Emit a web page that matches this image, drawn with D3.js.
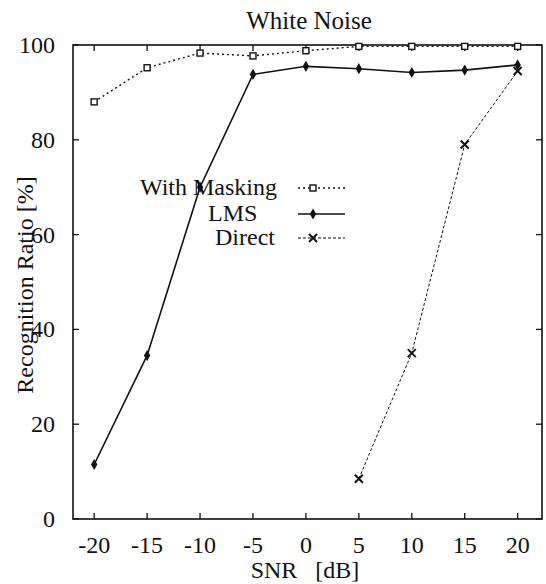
<!DOCTYPE html>
<html lang="en">
<head>
<meta charset="utf-8">
<title>White Noise</title>
<script src="https://d3js.org/d3.v7.min.js"></script>
<style>
  body { margin: 0; background: #fff; }
  text { font-family: "Liberation Serif", "DejaVu Serif", serif; fill: #111; }
</style>
</head>
<body>
<svg id="chart" width="546" height="584"></svg>
<script>
// data
var snr = [-20, -15, -10, -5, 0, 5, 10, 15, 20];
var withMasking = [88, 95.2, 98.3, 97.7, 98.8, 99.7, 99.7, 99.7, 99.7];
var lms = [11.5, 34.5, 70, 93.8, 95.5, 95, 94.2, 94.7, 95.8];
var directSnr = [5, 10, 15, 20];
var direct = [8.5, 35, 79, 94.5];
var xTicks = [-20, -15, -10, -5, 0, 5, 10, 15, 20];
var yTicks = [0, 20, 40, 60, 80, 100];

var svg = d3.select("#chart");
var plotL = 73, plotR = 542, plotT = 45, plotB = 519;

var x = d3.scaleLinear().domain([-22, 22.3]).range([plotL, plotR]);
var y = d3.scaleLinear().domain([0, 100]).range([plotB, plotT]);

// frame
svg.append("rect")
  .attr("x", plotL).attr("y", plotT)
  .attr("width", plotR - plotL).attr("height", plotB - plotT)
  .attr("fill", "none").attr("stroke", "#111").attr("stroke-width", 1.6);

// inner ticks
var tk = 6;
xTicks.forEach(function (v) {
  svg.append("line").attr("x1", x(v)).attr("x2", x(v))
    .attr("y1", plotB).attr("y2", plotB - tk).attr("stroke", "#111").attr("stroke-width", 1.3);
  svg.append("line").attr("x1", x(v)).attr("x2", x(v))
    .attr("y1", plotT).attr("y2", plotT + tk).attr("stroke", "#111").attr("stroke-width", 1.3);
  svg.append("text").attr("x", x(v)).attr("y", plotB + 34)
    .attr("text-anchor", "middle").attr("font-size", 24).text(v);
});
yTicks.forEach(function (v) {
  svg.append("line").attr("x1", plotL).attr("x2", plotL + tk)
    .attr("y1", y(v)).attr("y2", y(v)).attr("stroke", "#111").attr("stroke-width", 1.3);
  svg.append("line").attr("x1", plotR).attr("x2", plotR - tk)
    .attr("y1", y(v)).attr("y2", y(v)).attr("stroke", "#111").attr("stroke-width", 1.3);
  svg.append("text").attr("x", plotL - 18).attr("y", y(v) + 8)
    .attr("text-anchor", "end").attr("font-size", 24).text(v);
});

// titles
svg.append("text").attr("x", 309).attr("y", 29)
  .attr("text-anchor", "middle").attr("font-size", 25).text("White Noise");
svg.append("text").attr("x", 305).attr("y", 578)
  .attr("text-anchor", "middle").attr("font-size", 24)
  .attr("xml:space", "preserve").text("SNR   [dB]");
svg.append("text")
  .attr("transform", "translate(33,285) rotate(-90)")
  .attr("text-anchor", "middle").attr("font-size", 24)
  .text("Recognition Ratio [%]");

var line = d3.line().x(function (d) { return x(d[0]); }).y(function (d) { return y(d[1]); });

function square(g, cx, cy) {
  g.append("rect").attr("x", cx - 3).attr("y", cy - 3).attr("width", 6).attr("height", 6)
    .attr("fill", "#fff").attr("stroke", "#111").attr("stroke-width", 1.4);
}
function diamond(g, cx, cy) {
  g.append("path").attr("d", d3.symbol().type(d3.symbolDiamond).size(36)())
    .attr("transform", "translate(" + cx + "," + cy + ")").attr("fill", "#111");
}
function cross(g, cx, cy) {
  var r = 4;
  g.append("path")
    .attr("d", "M" + (cx - r) + "," + (cy - r) + "L" + (cx + r) + "," + (cy + r) +
      "M" + (cx - r) + "," + (cy + r) + "L" + (cx + r) + "," + (cy - r))
    .attr("stroke", "#111").attr("stroke-width", 2).attr("fill", "none");
}

var series = [
  { name: "With Masking", xs: snr, ys: withMasking, dash: "2,3", width: 1.4, marker: square, lx: 140, ly: 188 },
  { name: "LMS", xs: snr, ys: lms, dash: null, width: 1.6, marker: diamond, lx: 208, ly: 214 },
  { name: "Direct", xs: directSnr, ys: direct, dash: "3,2", width: 1, marker: cross, lx: 215, ly: 238 }
];

series.forEach(function (s) {
  var pts = s.xs.map(function (v, i) { return [v, s.ys[i]]; });
  var g = svg.append("g");
  g.append("path").attr("d", line(pts)).attr("fill", "none")
    .attr("stroke", "#111").attr("stroke-width", s.width)
    .attr("stroke-dasharray", s.dash);
  pts.forEach(function (p) { s.marker(g, x(p[0]), y(p[1])); });
});

// legend
series.forEach(function (s) {
  svg.append("text").attr("x", s.lx).attr("y", s.ly + 7)
    .attr("text-anchor", "start").attr("font-size", 24).text(s.name);
  svg.append("line").attr("x1", 298).attr("x2", 345).attr("y1", s.ly).attr("y2", s.ly)
    .attr("stroke", "#111").attr("stroke-width", s.width).attr("stroke-dasharray", s.dash);
  s.marker(svg, 313, s.ly);
});
</script>
</body>
</html>
